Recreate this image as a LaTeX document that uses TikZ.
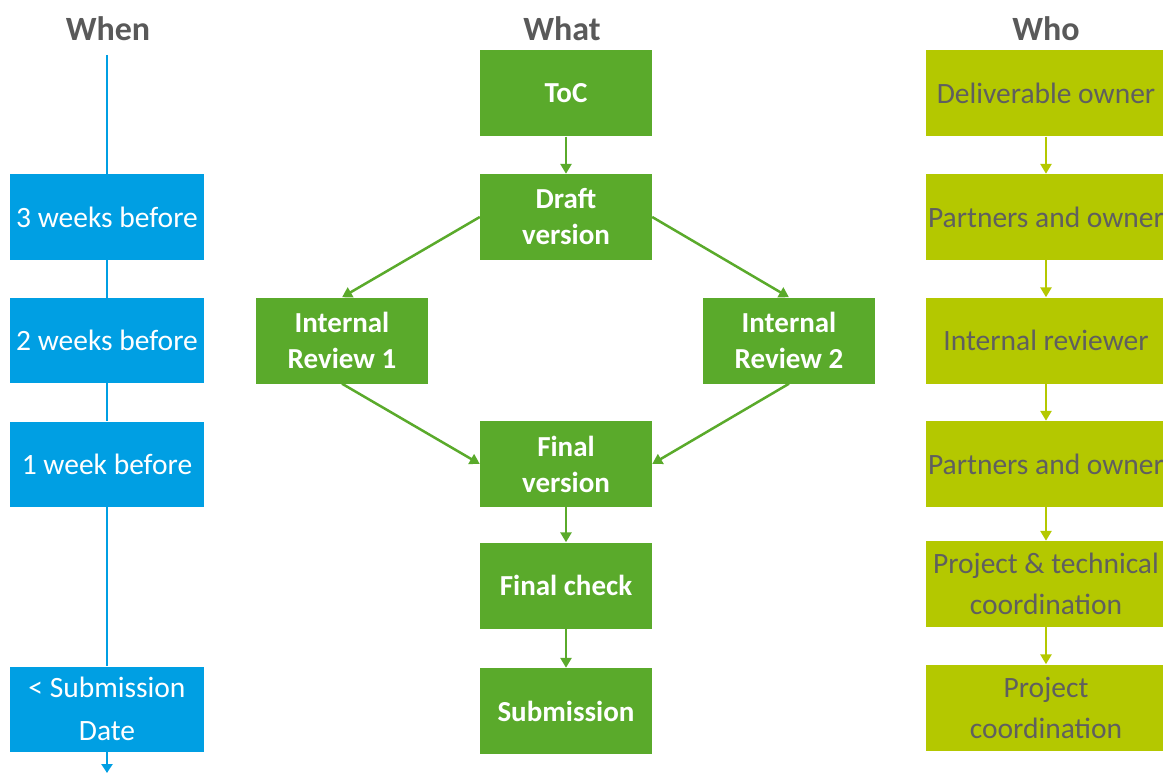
\documentclass[tikz,border=0pt]{standalone}
\usepackage{fontspec}
\setmainfont{Carlito}
\usetikzlibrary{arrows.meta}
\definecolor{whenblue}{RGB}{0,159,227}
\definecolor{whatgreen}{RGB}{90,170,43}
\definecolor{wholime}{RGB}{180,200,0}
\definecolor{headgray}{RGB}{89,89,89}
\definecolor{lifetext}{RGB}{95,95,95}

\begin{document}
\begin{tikzpicture}[x=1pt,y=-1pt,
	heading/.style={text=headgray,font=\fontsize{34}{40}\selectfont\bfseries},
	when/.style={rectangle,fill=whenblue,text=white,minimum width=194,minimum height=85,inner sep=0,align=center,font=\fontsize{29.5}{43}\selectfont},
	what/.style={rectangle,fill=whatgreen,text=white,minimum width=172,minimum height=86,inner sep=0,align=center,font=\fontsize{29}{36}\selectfont\bfseries},
	who/.style={rectangle,fill=wholime,text=lifetext,minimum width=240,minimum height=86,inner sep=0,align=center,font=\fontsize{29.5}{41}\selectfont},
	timeline/.style={draw=whenblue,line width=2.5},
	flow/.style={draw=whatgreen,line width=2.5,-{Triangle[length=10,width=11]}},
	duty/.style={draw=wholime,line width=2.5,-{Triangle[length=10,width=11]}}]
	\useasboundingbox (0,0) rectangle (1163,773);
	% headings
	\node[heading] (Hwhen) at (108,29) {When};
	\node[heading] (Hwhat) at (562,29) {What};
	\node[heading] (Hwho) at (1046,29) {Who};
	% when
	\coordinate (Ttop) at (107,55);
	\coordinate (Tend) at (107,773);
	\node[when] (W1) at (107,217) {3 weeks before};
	\node[when] (W2) at (107,340.5) {2 weeks before};
	\node[when] (W3) at (107,464) {1 week before};
	\node[when] (W4) at (107,709) {< Submission\\Date};
	% what
	\node[what] (ToC) at (566,93.5) {ToC};
	\node[what] (Draft) at (566,217) {Draft\\version};
	\node[what] (IR1) at (342,340.5) {Internal\\Review 1};
	\node[what] (IR2) at (789,340.5) {Internal\\Review 2};
	\node[what] (Final) at (566,464) {Final\\version};
	\node[what] (Check) at (566,585.5) {Final check};
	\node[what] (Sub) at (566,711) {Submission};
	% who
	\node[who] (P1) at (1046,93.5) {Deliverable owner};
	\node[who] (P2) at (1046,217) {Partners and owner};
	\node[who] (P3) at (1046,340.5) {Internal reviewer};
	\node[who] (P4) at (1046,464) {Partners and owner};
	\node[who] (P5) at (1046,584) {Project \& technical\\coordination};
	\node[who] (P6) at (1046,707.5) {Project\\coordination};
	\draw[timeline] (Ttop) -- (W1);
	\draw[timeline] (W1) -- (W2);
	\draw[timeline] (W2) -- (W3);
	\draw[timeline] (W3) -- (W4);
	\draw[timeline,-{Triangle[length=9,width=11]}] (W4) -- (Tend);
	\draw[flow] (ToC) -- (Draft);
	\draw[flow] (Draft.west) -- (IR1.north);
	\draw[flow] (Draft.east) -- (IR2.north);
	\draw[flow] (IR1.south) -- (Final.west);
	\draw[flow] (IR2.south) -- (Final.east);
	\draw[flow] (Final) -- (Check);
	\draw[flow] (Check) -- (Sub);
	\draw[duty] (P1) -- (P2);
	\draw[duty] (P2) -- (P3);
	\draw[duty] (P3) -- (P4);
	\draw[duty] (P4) -- (P5);
	\draw[duty] (P5) -- (P6);
\end{tikzpicture}
\end{document}
